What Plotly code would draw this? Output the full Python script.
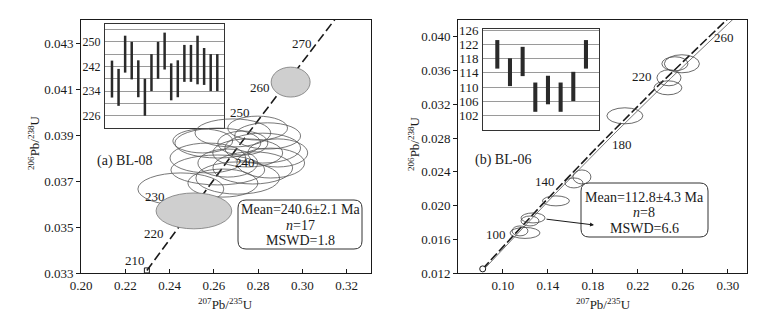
import numpy as np
import plotly.graph_objects as go

W, H = 767, 311
L238 = 1.55125e-10
L235 = 9.8485e-10
FONT = "Liberation Serif"
INK = "#1a1a1a"

# ---------------- data: panel (a) BL-08 ----------------
a_ell_x = [0.2451, 0.2618, 0.2618, 0.2843, 0.2857, 0.2753, 0.2686, 0.2776, 0.2573,
           0.2708, 0.2821, 0.2550, 0.2731, 0.2663, 0.2798, 0.2641, 0.2889]
a_ell_y = [0.03665, 0.03865, 0.03748, 0.03896, 0.03778, 0.03822, 0.03909, 0.03757, 0.03800,
           0.03713, 0.03843, 0.03874, 0.03865, 0.03778, 0.03930, 0.03691, 0.03822]
a_ell_sx = [0.0194, 0.0194, 0.0212, 0.0149, 0.0153, 0.0158, 0.0171, 0.0180, 0.0171,
            0.0189, 0.0171, 0.0135, 0.0113, 0.0135, 0.0135, 0.0158, 0.0135]
a_ell_sy = [0.00070, 0.00065, 0.00065, 0.00057, 0.00065, 0.00061, 0.00061, 0.00070, 0.00065,
            0.00070, 0.00065, 0.00052, 0.00052, 0.00061, 0.00052, 0.00061, 0.00061]
a_grey_x = [0.2947, 0.2510]
a_grey_y = [0.0413, 0.0357]
a_grey_sx = [0.0088, 0.0171]
a_grey_sy = [0.00065, 0.00078]
a_ages = [210, 220, 230, 240, 250, 260, 270]
a_age_dx = [-12, -20, -46, 16, -16, -24, -11]
a_age_dy = [-10, 0, 0, 3, -10, 2, -5]
a_bar_age = [237.9, 235.2, 246.0, 243.9, 238.0, 232.0, 240.0, 244.0, 247.0,
             237.0, 238.0, 243.0, 243.0, 244.1, 242.0, 240.0, 240.0]
a_bar_err = [6.0, 6.0, 6.0, 6.1, 6.0, 6.0, 6.0, 6.0, 6.0,
             6.0, 6.0, 6.0, 6.0, 7.9, 6.0, 6.0, 6.0]
a_mean, a_mean_err, a_n, a_mswd = 240.6, 2.1, 17, 1.8

# ---------------- data: panel (b) BL-06 ----------------
b_ell_x = [0.2591, 0.2529, 0.2476, 0.2467, 0.2084, 0.1702, 0.1631, 0.1471,
           0.1267, 0.1240, 0.1196, 0.1151]
b_ell_y = [0.03681, 0.03681, 0.03515, 0.03396, 0.03064, 0.02339, 0.02268, 0.02055,
           0.01853, 0.01817, 0.01675, 0.01699]
b_ell_sx = [0.0156, 0.0116, 0.0107, 0.0124, 0.0160, 0.0080, 0.0080, 0.0120,
            0.0107, 0.0080, 0.0133, 0.0071]
b_ell_sy = [0.00107, 0.00083, 0.00095, 0.00083, 0.00095, 0.00083, 0.00059, 0.00059,
            0.00059, 0.00059, 0.00065, 0.00059]
b_ages = [100, 140, 180, 220, 260]
b_age_dx = [-11, -12, 13, -21, 5]
b_age_dy = [-8, -8, 9, -5, 10]
b_bar_age = [119.2, 114.2, 117.2, 107.2, 109.2, 107.2, 110.2, 119.2]
b_bar_err = [4.0, 3.9, 4.1, 4.1, 4.0, 4.1, 4.1, 4.0]
b_mean, b_mean_err, b_n, b_mswd = 112.8, 4.3, 8, 6.6


def conc(t_ma):
    t = np.asarray(t_ma, dtype=float) * 1e6
    return np.exp(L235 * t) - 1, np.exp(L238 * t) - 1


def px(x):
    return x / W


def py(y):
    return 1 - y / H


fig = go.Figure()
shapes = []
annos = []

# ---------- concordia (a) ----------
ta = np.linspace(210, 282, 300)
cx, cy = conc(ta)
fig.add_trace(go.Scatter(x=cx, y=cy, mode="lines", xaxis="x", yaxis="y",
                         line=dict(color=INK, width=1.6, dash="9px,4px"), hoverinfo="skip"))
mx, my = conc([a_ages[0]])
fig.add_trace(go.Scatter(x=mx, y=my, mode="markers", xaxis="x", yaxis="y",
                         marker=dict(symbol="square-open", size=5, color=INK, line=dict(width=1))))
ax_, ay_ = conc(a_ages)
for t, x, y, dx, dy in zip(a_ages, ax_, ay_, a_age_dx, a_age_dy):
    annos.append(dict(x=x, y=y, xref="x", yref="y", text=str(t), showarrow=False,
                      xanchor="center", yanchor="middle",
                      xshift=dx, yshift=-dy, font=dict(family=FONT, size=13, color=INK)))

for x, y, sx, sy in zip(a_ell_x, a_ell_y, a_ell_sx, a_ell_sy):
    shapes.append(dict(type="circle", xref="x", yref="y", x0=x - sx, x1=x + sx,
                       y0=y - sy, y1=y + sy, line=dict(color="#555", width=0.8)))
for x, y, sx, sy in zip(a_grey_x, a_grey_y, a_grey_sx, a_grey_sy):
    shapes.append(dict(type="circle", xref="x", yref="y", x0=x - sx, x1=x + sx,
                       y0=y - sy, y1=y + sy, fillcolor="#cfcfcf",
                       line=dict(color="#777", width=0.8)))

# ---------- concordia (b) ----------
tb = np.linspace(80, 275, 300)
cx, cy = conc(tb)
fig.add_trace(go.Scatter(x=cx * 1.018, y=cy, mode="lines", xaxis="x2", yaxis="y2",
                         line=dict(color="#555", width=0.8), hoverinfo="skip"))
fig.add_trace(go.Scatter(x=cx, y=cy, mode="lines", xaxis="x2", yaxis="y2",
                         line=dict(color=INK, width=1.6, dash="9px,3px"), hoverinfo="skip"))
mx, my = conc([80])
fig.add_trace(go.Scatter(x=mx, y=my, mode="markers", xaxis="x2", yaxis="y2",
                         marker=dict(symbol="circle", size=6, color="white",
                                     line=dict(width=1, color=INK))))
bx_, by_ = conc(b_ages)
for t, x, y, dx, dy in zip(b_ages, bx_, by_, b_age_dx, b_age_dy):
    annos.append(dict(x=x, y=y, xref="x2", yref="y2", text=str(t), showarrow=False,
                      xanchor="center", yanchor="middle",
                      xshift=dx, yshift=-dy, font=dict(family=FONT, size=13, color=INK)))
for x, y, sx, sy in zip(b_ell_x, b_ell_y, b_ell_sx, b_ell_sy):
    shapes.append(dict(type="circle", xref="x2", yref="y2", x0=x - sx, x1=x + sx,
                       y0=y - sy, y1=y + sy, line=dict(color="#444", width=0.8)))

# ---------- insets ----------
ia = list(range(1, len(a_bar_age) + 1))
fig.add_trace(go.Bar(x=ia, y=[2 * e for e in a_bar_err],
                     base=[a - e for a, e in zip(a_bar_age, a_bar_err)],
                     width=0.38, marker=dict(color="#2a2a2a", line=dict(width=0)),
                     xaxis="x3", yaxis="y3"))
ib = list(range(1, len(b_bar_age) + 1))
fig.add_trace(go.Bar(x=ib, y=[2 * e for e in b_bar_err],
                     base=[a - e for a, e in zip(b_bar_age, b_bar_err)],
                     width=0.32, marker=dict(color="#2a2a2a", line=dict(width=0)),
                     xaxis="x4", yaxis="y4"))
shapes.append(dict(type="line", xref="x3 domain", yref="y3", x0=0, x1=1, y0=a_mean, y1=a_mean,
                   line=dict(color="#333", width=1), layer="below"))
shapes.append(dict(type="line", xref="x4 domain", yref="y4", x0=0.04, x1=0.97, y0=b_mean, y1=b_mean,
                   line=dict(color="#222", width=1.2), layer="below"))


def rrect(x0, y0, x1, y1, r):
    X = lambda v: px(v)
    Y = lambda v: py(v)
    return (f"M {X(x0 + r)},{Y(y0)} L {X(x1 - r)},{Y(y0)} Q {X(x1)},{Y(y0)} {X(x1)},{Y(y0 + r)} "
            f"L {X(x1)},{Y(y1 - r)} Q {X(x1)},{Y(y1)} {X(x1 - r)},{Y(y1)} "
            f"L {X(x0 + r)},{Y(y1)} Q {X(x0)},{Y(y1)} {X(x0)},{Y(y1 - r)} "
            f"L {X(x0)},{Y(y0 + r)} Q {X(x0)},{Y(y0)} {X(x0 + r)},{Y(y0)} Z")


shapes.append(dict(type="path", xref="paper", yref="paper", path=rrect(230, 192, 354, 241, 8),
                   line=dict(color="#333", width=1), fillcolor="white"))
shapes.append(dict(type="path", xref="paper", yref="paper", path=rrect(573, 175, 700, 229, 8),
                   line=dict(color="#333", width=1), fillcolor="white"))


def txt(x, y, s, size=13, **kw):
    d = dict(x=px(x), y=py(y), xref="paper", yref="paper", text=s, showarrow=False,
             xanchor="center", yanchor="middle",
             font=dict(family=FONT, size=size, color=INK))
    d.update(kw)
    annos.append(d)


txt(292, 202, f"Mean={a_mean}±{a_mean_err} Ma", size=14)
txt(292, 217, f"<i>n</i>={a_n}", size=14)
txt(292, 232, f"MSWD={a_mswd}", size=14)
txt(636, 189, f"Mean={b_mean}±{b_mean_err} Ma", size=14)
txt(636, 204, f"<i>n</i>={b_n}", size=14)
txt(636, 220, f"MSWD={b_mswd}", size=14)
txt(117, 153, "(a) BL-08", size=14)
txt(495, 152, "(b) BL-06", size=14)
txt(217, 296, "<sup>207</sup>Pb/<sup>235</sup>U", size=13)
txt(595, 296, "<sup>207</sup>Pb/<sup>235</sup>U", size=13)
txt(26, 135, "<sup>206</sup>Pb/<sup>238</sup>U", size=13, textangle=-90)
txt(406, 135, "<sup>206</sup>Pb/<sup>238</sup>U", size=13, textangle=-90)

annos.append(dict(x=px(586), y=py(217), xref="paper", yref="paper", ax=-49, ay=-6,
                  showarrow=True, arrowhead=2, arrowsize=0.8, arrowwidth=1, arrowcolor=INK, text=""))

ax_common = dict(showline=True, mirror=True, linecolor=INK, linewidth=1, showgrid=False,
                 zeroline=False, automargin=False,
                 tickfont=dict(family=FONT, size=13, color=INK), tickcolor=INK)
inset_x = dict(showticklabels=False, ticks="", showline=True, mirror=True, linecolor="#333",
               linewidth=1, showgrid=False, zeroline=False, automargin=False)

fig.update_layout(
    width=W, height=H, autosize=False, showlegend=False,
    margin=dict(l=0, r=0, t=0, b=0, autoexpand=False),
    paper_bgcolor="white", plot_bgcolor="white",
    shapes=shapes, annotations=annos,
    xaxis=dict(domain=[px(73), px(363)], range=[0.20, 0.331], anchor="y",
               tickvals=[0.20, 0.22, 0.24, 0.26, 0.28, 0.30, 0.32], tickformat=".2f",
               ticks="inside", ticklen=4, **ax_common),
    yaxis=dict(domain=[py(265), py(12)], range=[0.033, 0.044], anchor="x",
               tickvals=[0.033, 0.035, 0.037, 0.039, 0.041, 0.043], tickformat=".3f",
               ticks="outside", ticklen=4, **ax_common),
    xaxis2=dict(domain=[px(450), px(739)], range=[0.06, 0.317], anchor="y2",
                tickvals=[0.10, 0.14, 0.18, 0.22, 0.26, 0.30], tickformat=".2f",
                ticks="inside", ticklen=4, **ax_common),
    yaxis2=dict(domain=[py(265), py(12)], range=[0.012, 0.042], anchor="x2",
                tickvals=[0.012, 0.016, 0.020, 0.024, 0.028, 0.032, 0.036, 0.040], tickformat=".3f",
                ticks="outside", ticklen=4, **ax_common),
    xaxis3=dict(domain=[px(97), px(216)], range=[-0.06, 18.02], anchor="y3", **inset_x),
    yaxis3=dict(domain=[py(120), py(16)], range=[222, 255.8], anchor="x3",
                tickvals=list(range(226, 255, 4)),
                ticktext=["226", "", "234", "", "242", "", "250", ""],
                ticks="", showline=True, mirror=True, linecolor="#333", linewidth=1,
                showgrid=True, gridcolor="#9a9a9a", gridwidth=0.8, zeroline=False, automargin=False,
                tickfont=dict(family=FONT, size=12, color=INK), ticklabelstandoff=1),
    xaxis4=dict(domain=[px(475), px(591)], range=[-0.13, 9.03], anchor="y4", **inset_x),
    yaxis4=dict(domain=[py(122), py(21)], range=[98, 126.3], anchor="x4",
                tickvals=list(range(102, 127, 4)),
                ticks="", showline=True, mirror=True, linecolor="#333", linewidth=1,
                showgrid=True, gridcolor="#9a9a9a", gridwidth=0.8, zeroline=False, automargin=False,
                tickfont=dict(family=FONT, size=13, color=INK), ticklabelstandoff=1),
)

fig.write_html("out.html")
